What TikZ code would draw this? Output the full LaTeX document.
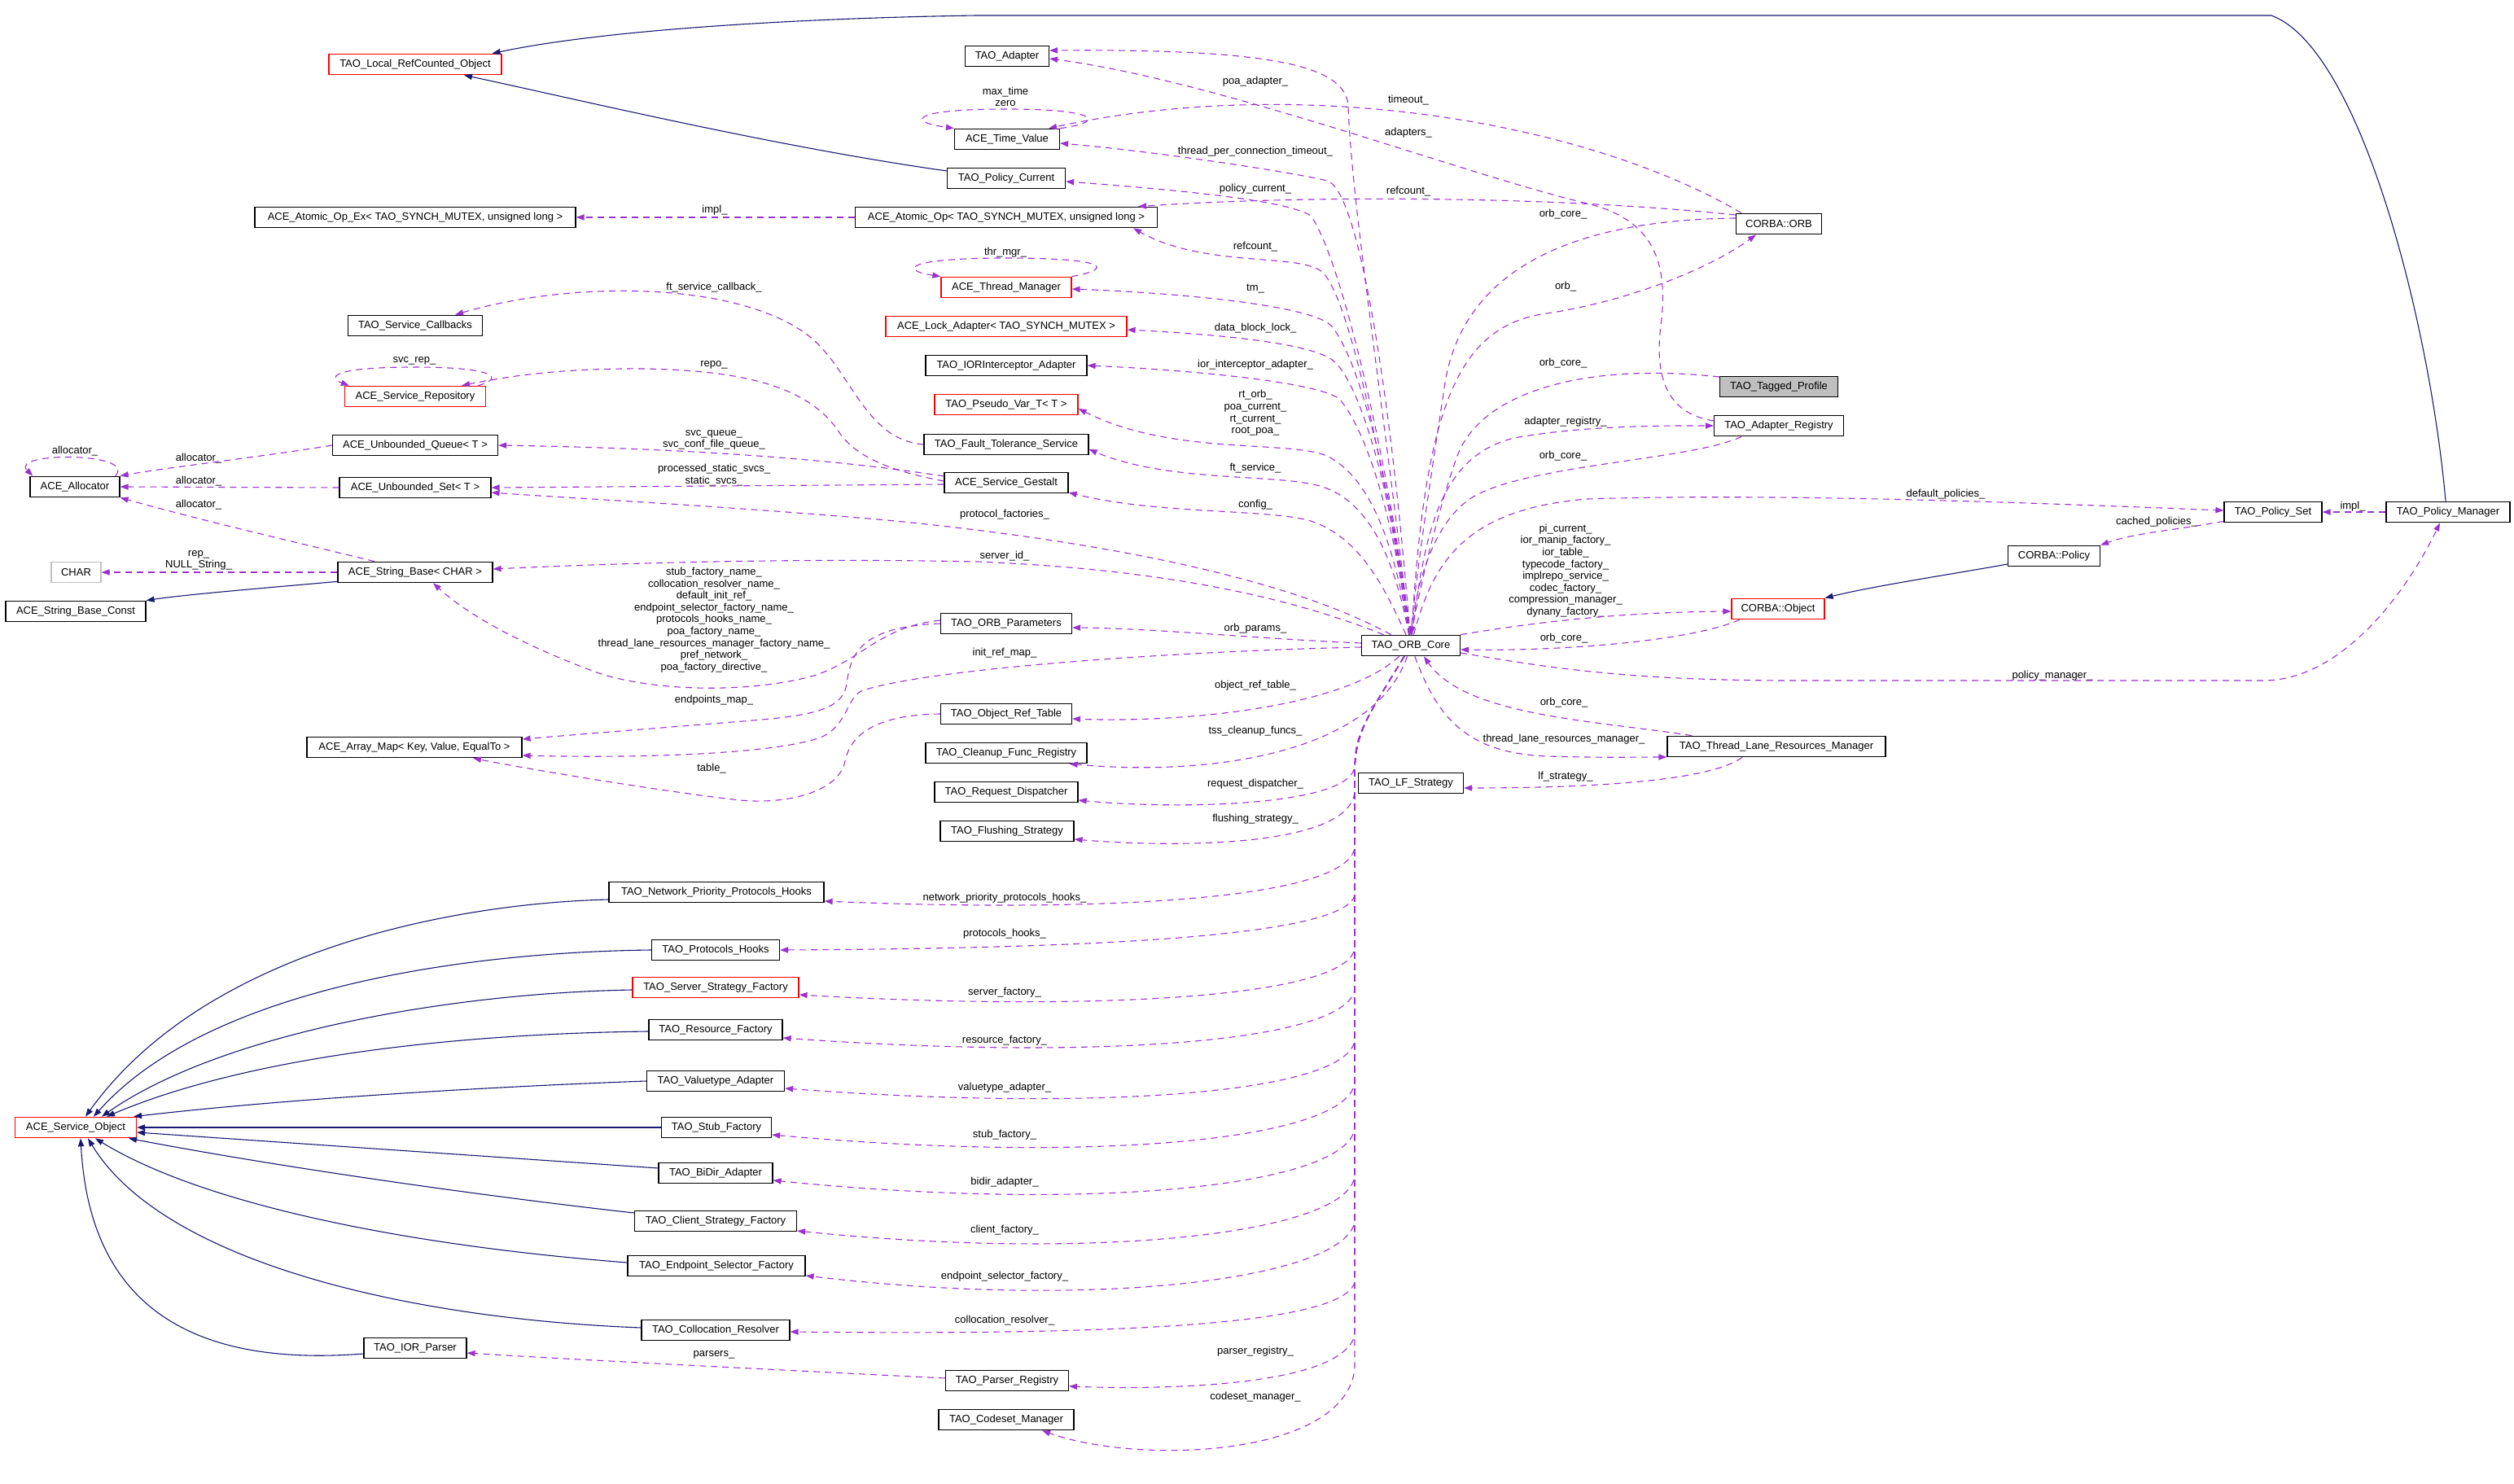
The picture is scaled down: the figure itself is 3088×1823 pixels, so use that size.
\documentclass[tikz,border=0pt]{standalone}
\usepackage{fontspec}
\usepackage{tikz}
\usetikzlibrary{arrows.meta}
\newfontfamily\dxsans{Liberation Sans}
\newcommand\dxfont{\dxsans\fontsize{6.5}{7.3}\selectfont}
\definecolor{usecol}{HTML}{9A32CD}
\definecolor{inhcol}{HTML}{191970}
\definecolor{greycol}{HTML}{BFBFBF}
\tikzset{
  cls/.style = {rectangle, draw=black, font=\dxfont, inner xsep=4pt, inner ysep=0pt,
    minimum height=12.75pt, minimum width=#1*0.5pt, line width=0.6pt},% class box
  cls_r/.style = {cls=#1, draw=red},% class box, red frame
  cls_g/.style = {cls=#1, draw=greycol},% class box, grey frame
  cls_f/.style = {cls=#1, fill=greycol},% class box of the graph
  lbl/.style = {font=\dxfont, align=center, inner sep=0pt},% member names
  use_e/.style = {draw=usecol, line width=0.55pt, dash pattern=on 4pt off 3pt,
    -{Triangle[length=5pt,width=3.6pt]}},% usage
  inh_e/.style = {draw=inhcol, line width=0.55pt,
    -{Triangle[length=5pt,width=3.6pt]}}% inheritance
}
\begin{document}
\begin{tikzpicture}[x=0.5pt, y=-0.5pt]
\useasboundingbox (0,0) rectangle (3088,1823);
% classes
\node[cls_r=212] (local_rc) at (510,79) {TAO\_Local\_RefCounted\_Object};
\node[cls=394] (atomic_ex) at (510,267) {ACE\_Atomic\_Op\_Ex< TAO\_SYNCH\_MUTEX, unsigned long >};
\node[cls=165] (svc_callbacks) at (510,400) {TAO\_Service\_Callbacks};
\node[cls_r=173] (svc_repo) at (510,487) {ACE\_Service\_Repository};
\node[cls=203] (ubq) at (510,547) {ACE\_Unbounded\_Queue< T >};
\node[cls=110] (allocator) at (92,598) {ACE\_Allocator};
\node[cls=186] (ubs) at (510,599) {ACE\_Unbounded\_Set< T >};
\node[cls_g=61] (char) at (93.5,703) {CHAR};
\node[cls=190] (str_base) at (510,703) {ACE\_String\_Base< CHAR >};
\node[cls=172] (str_const) at (93,751) {ACE\_String\_Base\_Const};
\node[cls=264] (array_map) at (509,918) {ACE\_Array\_Map< Key, Value, EqualTo >};
\node[cls=264] (nppH) at (880,1096) {TAO\_Network\_Priority\_Protocols\_Hooks};
\node[cls=157] (proto_hooks) at (879,1167) {TAO\_Protocols\_Hooks};
\node[cls_r=204] (server_sf) at (879,1213) {TAO\_Server\_Strategy\_Factory};
\node[cls=164] (resource_f) at (879,1265) {TAO\_Resource\_Factory};
\node[cls=169] (valuetype) at (879,1328) {TAO\_Valuetype\_Adapter};
\node[cls_r=149] (svc_object) at (93,1385) {ACE\_Service\_Object};
\node[cls=135] (stub_f) at (880,1385) {TAO\_Stub\_Factory};
\node[cls=140] (bidir) at (879,1441) {TAO\_BiDir\_Adapter};
\node[cls=199] (client_sf) at (879,1500) {TAO\_Client\_Strategy\_Factory};
\node[cls=218] (endpoint_sf) at (880,1555) {TAO\_Endpoint\_Selector\_Factory};
\node[cls=182] (colloc) at (879,1634) {TAO\_Collocation\_Resolver};
\node[cls=126] (ior_parser) at (510,1656) {TAO\_IOR\_Parser};
\node[cls=151] (parser_reg) at (1237,1696) {TAO\_Parser\_Registry};
\node[cls=166] (codeset) at (1236,1744) {TAO\_Codeset\_Manager};
\node[cls=103] (tao_adapter) at (1237,69) {TAO\_Adapter};
\node[cls=129] (time_value) at (1237,171) {ACE\_Time\_Value};
\node[cls=145] (policy_current) at (1236,219) {TAO\_Policy\_Current};
\node[cls=371] (atomic_op) at (1236,267) {ACE\_Atomic\_Op< TAO\_SYNCH\_MUTEX, unsigned long >};
\node[cls_r=160] (thread_mgr) at (1236,353) {ACE\_Thread\_Manager};
\node[cls_r=296] (lock_adapter) at (1236,401) {ACE\_Lock\_Adapter< TAO\_SYNCH\_MUTEX >};
\node[cls=198] (ior_intercept) at (1236,449) {TAO\_IORInterceptor\_Adapter};
\node[cls_r=176] (pseudo_var) at (1236,497) {TAO\_Pseudo\_Var\_T< T >};
\node[cls=202] (ft_service) at (1236,546) {TAO\_Fault\_Tolerance\_Service};
\node[cls=152] (gestalt) at (1236,593) {ACE\_Service\_Gestalt};
\node[cls=161] (orb_params) at (1236,766) {TAO\_ORB\_Parameters};
\node[cls=121] (orb_core) at (1733,793) {TAO\_ORB\_Core};
\node[cls=161] (obj_ref_table) at (1236,877) {TAO\_Object\_Ref\_Table};
\node[cls=198] (cleanup) at (1236,925) {TAO\_Cleanup\_Func\_Registry};
\node[cls=176] (req_disp) at (1236,973) {TAO\_Request\_Dispatcher};
\node[cls=164] (flushing) at (1237,1021) {TAO\_Flushing\_Strategy};
\node[cls=129] (lf_strategy) at (1733,962) {TAO\_LF\_Strategy};
\node[cls=105] (corba_orb) at (2185,275) {CORBA::ORB};
\node[cls_f=145] (tagged_profile) at (2185,475) {TAO\_Tagged\_Profile};
\node[cls=159] (adapter_reg) at (2185,523) {TAO\_Adapter\_Registry};
\node[cls=120] (policy_set) at (2792,629) {TAO\_Policy\_Set};
\node[cls=152] (policy_mgr) at (3007,629) {TAO\_Policy\_Manager};
\node[cls=113] (corba_policy) at (2523,683) {CORBA::Policy};
\node[cls_r=114] (corba_object) at (2184,748) {CORBA::Object};
\node[cls=268] (tlrm) at (2182,917) {TAO\_Thread\_Lane\_Resources\_Manager};
% member names
\node[lbl] (l_alloc_self) at (92,554) {allocator\_};
\node[lbl] (l_alloc_q) at (244,563) {allocator\_};
\node[lbl] (l_alloc_s) at (244,591) {allocator\_};
\node[lbl] (l_alloc_str) at (244,620) {allocator\_};
\node[lbl] (l_rep) at (244,688.5) {rep\_\\NULL\_String\_};
\node[lbl] (l_impl) at (878,258) {impl\_};
\node[lbl] (l_ftcb) at (877,353) {ft\_service\_callback\_};
\node[lbl] (l_svcrep) at (509,443) {svc\_rep\_};
\node[lbl] (l_repo) at (877,448) {repo\_};
\node[lbl] (l_svcq) at (877,540.5) {svc\_queue\_\\svc\_conf\_file\_queue\_};
\node[lbl] (l_static) at (877,583.5) {processed\_static\_svcs\_\\static\_svcs\_};
\node[lbl] (l_names) at (877,761.5) {stub\_factory\_name\_\\collocation\_resolver\_name\_\\default\_init\_ref\_\\endpoint\_selector\_factory\_name\_\\protocols\_hooks\_name\_\\poa\_factory\_name\_\\thread\_lane\_resources\_manager\_factory\_name\_\\pref\_network\_\\poa\_factory\_directive\_};
\node[lbl] (l_epmap) at (877,860) {endpoints\_map\_};
\node[lbl] (l_table) at (874,944) {table\_};
\node[lbl] (l_parsers) at (877,1664) {parsers\_};
\node[lbl] (l_maxtime) at (1235,119) {max\_time\\zero};
\node[lbl] (l_thrmgr) at (1235,310) {thr\_mgr\_};
\node[lbl] (l_poa) at (1542,100) {poa\_adapter\_};
\node[lbl] (l_tpct) at (1542,186) {thread\_per\_connection\_timeout\_};
\node[lbl] (l_polcur) at (1542,232) {policy\_current\_};
\node[lbl] (l_refc2) at (1542,303) {refcount\_};
\node[lbl] (l_tm) at (1542,355) {tm\_};
\node[lbl] (l_dbl) at (1542,403) {data\_block\_lock\_};
\node[lbl] (l_ioria) at (1542,448) {ior\_interceptor\_adapter\_};
\node[lbl] (l_rt) at (1542,507.5) {rt\_orb\_\\poa\_current\_\\rt\_current\_\\root\_poa\_};
\node[lbl] (l_ft) at (1542,575) {ft\_service\_};
\node[lbl] (l_config) at (1542,620) {config\_};
\node[lbl] (l_protof) at (1234,632) {protocol\_factories\_};
\node[lbl] (l_srvid) at (1234,683) {server\_id\_};
\node[lbl] (l_orbp) at (1542,772) {orb\_params\_};
\node[lbl] (l_initref) at (1234,802) {init\_ref\_map\_};
\node[lbl] (l_objref) at (1542,842) {object\_ref\_table\_};
\node[lbl] (l_tss) at (1542,898) {tss\_cleanup\_funcs\_};
\node[lbl] (l_reqd) at (1542,963) {request\_dispatcher\_};
\node[lbl] (l_flush) at (1542,1006) {flushing\_strategy\_};
\node[lbl] (l_nph) at (1234,1103) {network\_priority\_protocols\_hooks\_};
\node[lbl] (l_ph) at (1234,1147) {protocols\_hooks\_};
\node[lbl] (l_sf) at (1234,1219) {server\_factory\_};
\node[lbl] (l_rf) at (1234,1278) {resource\_factory\_};
\node[lbl] (l_va) at (1234,1336) {valuetype\_adapter\_};
\node[lbl] (l_stf) at (1234,1394) {stub\_factory\_};
\node[lbl] (l_bd) at (1234,1452) {bidir\_adapter\_};
\node[lbl] (l_cf) at (1234,1511) {client\_factory\_};
\node[lbl] (l_esf) at (1234,1568) {endpoint\_selector\_factory\_};
\node[lbl] (l_cr) at (1234,1622) {collocation\_resolver\_};
\node[lbl] (l_pr) at (1542,1660) {parser\_registry\_};
\node[lbl] (l_cm) at (1542,1716) {codeset\_manager\_};
\node[lbl] (l_timeout) at (1730,123) {timeout\_};
\node[lbl] (l_adapters) at (1730,163) {adapters\_};
\node[lbl] (l_refc1) at (1730,235) {refcount\_};
\node[lbl] (l_oc1) at (1920,263) {orb\_core\_};
\node[lbl] (l_orb) at (1923,352) {orb\_};
\node[lbl] (l_oc2) at (1920,446) {orb\_core\_};
\node[lbl] (l_areg) at (1923,518) {adapter\_registry\_};
\node[lbl] (l_oc3) at (1920,560) {orb\_core\_};
\node[lbl] (l_pic) at (1923,701) {pi\_current\_\\ior\_manip\_factory\_\\ior\_table\_\\typecode\_factory\_\\implrepo\_service\_\\codec\_factory\_\\compression\_manager\_\\dynany\_factory\_};
\node[lbl] (l_oc4) at (1921,784) {orb\_core\_};
\node[lbl] (l_oc5) at (1921,863) {orb\_core\_};
\node[lbl] (l_tlrm) at (1921,908) {thread\_lane\_resources\_manager\_};
\node[lbl] (l_lf) at (1923,954) {lf\_strategy\_};
\node[lbl] (l_defpol) at (2390,607) {default\_policies\_};
\node[lbl] (l_impl2) at (2890,622) {impl\_};
\node[lbl] (l_cached) at (2649,641) {cached\_policies\_};
\node[lbl] (l_polmgr) at (2521,830) {policy\_manager\_};
% inheritance
\draw[inh_e] ([xshift=-1.5pt]policy_mgr.north) .. controls (2985,400) and (2900,60) .. (2790,19) -- (1200,19) .. controls (1000,22) and (750,35) .. ([xshift=-6pt]local_rc.north east);
\draw[inh_e] ([yshift=4.5pt]policy_current.west) .. controls (950,180) and (700,120) .. ([xshift=30pt]local_rc.south);
\draw[inh_e] ([yshift=1pt]str_base.south west) .. controls (330,722) and (230,730) .. (str_const.north east);
\draw[inh_e] ([yshift=-5pt]corba_policy.west) .. controls (2400,705) and (2300,720) .. (corba_object.north east);
\draw[inh_e] ([yshift=-4.5pt]nppH.west) .. controls (550,1110) and (250,1170) .. ([xshift=6pt]svc_object.north);
\draw[inh_e] (proto_hooks.west) .. controls (550,1170) and (250,1220) .. ([xshift=11pt]svc_object.north);
\draw[inh_e] ([yshift=-1.5pt]server_sf.west) .. controls (550,1220) and (270,1270) .. ([xshift=16pt]svc_object.north);
\draw[inh_e] ([yshift=-1pt]resource_f.west) .. controls (550,1270) and (300,1300) .. ([xshift=19pt]svc_object.north);
\draw[inh_e] (valuetype.west) .. controls (600,1335) and (350,1350) .. ([xshift=-2pt]svc_object.north east);
\draw[inh_e] (stub_f.west) -- (svc_object.east);
\draw[inh_e] ([yshift=3pt]bidir.west) -- ([yshift=-3pt]svc_object.east);
\draw[inh_e] ([yshift=5pt]client_sf.west) .. controls (600,1470) and (350,1435) .. ([xshift=-5pt]svc_object.south east);
\draw[inh_e] ([yshift=2pt]endpoint_sf.west) .. controls (500,1530) and (250,1480) .. ([xshift=12pt]svc_object.south);
\draw[inh_e] ([yshift=1.5pt]colloc.west) .. controls (500,1620) and (200,1550) .. ([xshift=7.5pt]svc_object.south);
\draw[inh_e] ([yshift=-3.5pt]ior_parser.west) .. controls (230,1680) and (110,1600) .. ([xshift=3pt]svc_object.south);
% usage, left part
\draw[use_e] ([xshift=-3pt]allocator.north east) .. controls (170,555) and (10,555) .. ([xshift=2pt]allocator.north west);
\draw[use_e] (ubq.west) .. controls (330,560) and (200,575) .. (allocator.north east);
\draw[use_e] (ubs.west) -- (allocator.east);
\draw[use_e] ([xshift=-25pt]str_base.north) .. controls (380,670) and (250,640) .. (allocator.south east);
\draw[use_e] (str_base.west) -- (char.east);
\draw[use_e] (atomic_op.west) -- (atomic_ex.east);
\draw[use_e] (time_value.north east) .. controls (1360,150) and (1350,134) .. (1237,134) .. controls (1115,134) and (1115,150) .. (time_value.north west);
\draw[use_e] (thread_mgr.north east) .. controls (1370,330) and (1360,317) .. (1236,317) .. controls (1110,317) and (1105,332) .. (thread_mgr.north west);
\draw[use_e] ([xshift=-5pt]svc_repo.north east) .. controls (620,465) and (610,451) .. (510,451) .. controls (400,451) and (405,465) .. ([xshift=3pt]svc_repo.north west);
\draw[use_e] (ft_service.west) .. controls (1060,540) and (1045,450) .. (990,410) .. controls (900,345) and (700,345) .. ([xshift=-17pt]svc_callbacks.north east);
\draw[use_e] ([yshift=1pt]gestalt.west) .. controls (1090,578) and (1050,560) .. (1030,530) .. controls (990,470) and (900,455) .. (790,453) .. controls (680,452) and (610,465) .. ([xshift=-15pt]svc_repo.north east);
\draw[use_e] ([yshift=4pt]gestalt.west) .. controls (1000,560) and (800,550) .. (ubq.east);
\draw[use_e] ([yshift=-1pt]gestalt.west) -- (ubs.east);
\draw[use_e] ([yshift=2pt]orb_params.west) .. controls (1080,770) and (1060,810) .. (1000,830) .. controls (920,852) and (800,850) .. (730,825) .. controls (650,795) and (580,760) .. ([xshift=11pt]str_base.south);
\draw[use_e] (orb_params.west) .. controls (1060,770) and (1045,800) .. (1040,840) .. controls (1035,875) and (990,880) .. (900,887) .. controls (800,895) and (700,903) .. ([yshift=5pt]array_map.east);
\draw[use_e] (obj_ref_table.west) .. controls (1080,878) and (1045,900) .. (1038,935) .. controls (1030,975) and (960,990) .. (900,982) .. controls (800,970) and (650,945) .. ([xshift=36pt]array_map.south);
\draw[use_e] ([yshift=1.5pt]parser_reg.west) .. controls (1000,1685) and (700,1670) .. ([yshift=-3pt]ior_parser.east);
% usage from TAO_ORB_Core, upwards
\draw[use_e] (orb_core) .. controls (1700,500) and (1660,250) .. (1656,130) .. controls (1653,80) and (1560,60) .. ([yshift=3.5pt]tao_adapter.east);
\draw[use_e] (orb_core) .. controls (1710,500) and (1670,232) .. (1630,222) .. controls (1590,212) and (1420,186) .. ([yshift=-2.5pt]time_value.east);
\draw[use_e] (orb_core) .. controls (1712,600) and (1650,320) .. (1610,265) .. controls (1580,245) and (1430,232) .. ([yshift=-2pt]policy_current.east);
\draw[use_e] (orb_core) .. controls (1705,600) and (1660,370) .. (1625,335) .. controls (1600,310) and (1480,330) .. ([xshift=-15pt]atomic_op.south east);
\draw[use_e] (orb_core) .. controls (1710,600) and (1670,440) .. (1635,400) .. controls (1610,375) and (1450,360) .. ([yshift=-1pt]thread_mgr.east);
\draw[use_e] (orb_core) .. controls (1712,620) and (1675,480) .. (1640,445) .. controls (1615,420) and (1480,410) .. ([yshift=-2pt]lock_adapter.east);
\draw[use_e] (orb_core) .. controls (1712,640) and (1680,530) .. (1645,490) .. controls (1620,470) and (1470,455) .. (ior_intercept.east);
\draw[use_e] (orb_core) .. controls (1712,660) and (1680,585) .. (1630,560) .. controls (1580,540) and (1440,560) .. ([yshift=-2.5pt]pseudo_var.east);
\draw[use_e] (orb_core) .. controls (1712,680) and (1680,620) .. (1630,600) .. controls (1580,580) and (1440,595) .. ([yshift=-3pt]ft_service.east);
\draw[use_e] (orb_core) .. controls (1700,720) and (1670,660) .. (1610,640) .. controls (1560,625) and (1420,632) .. ([yshift=-6pt]gestalt.east);
\draw[use_e] (orb_core) .. controls (1600,720) and (1400,670) .. (1100,640) .. controls (900,622) and (700,612) .. ([yshift=-3pt]ubs.east);
\draw[use_e] (orb_core) .. controls (1600,740) and (1450,700) .. (1200,690) .. controls (1000,686) and (800,690) .. ([yshift=2pt]str_base.east);
\draw[use_e] ([yshift=1.5pt]orb_core.west) .. controls (1550,785) and (1420,772) .. ([yshift=-2.5pt]orb_params.east);
\draw[use_e] ([yshift=-1pt]orb_core.west) .. controls (1450,800) and (1150,820) .. (1060,848) .. controls (1040,855) and (1042,890) .. (1010,905) .. controls (960,925) and (800,932) .. ([yshift=-5pt]array_map.east);
% usage from TAO_ORB_Core, downwards
\draw[use_e] (orb_core) .. controls (1650,870) and (1450,888) .. ([yshift=-3pt]obj_ref_table.east);
\draw[use_e] (orb_core) .. controls (1690,920) and (1500,955) .. ([xshift=-11pt]cleanup.south east);
\draw[use_e] (orb_core) .. controls (1680,880) and (1664,900) .. (1664,940) .. controls (1664,990) and (1450,995) .. ([yshift=-5pt]req_disp.east);
\draw[use_e] (orb_core) .. controls (1680,880) and (1664,900) .. (1664,950) -- (1664,970) .. controls (1664,1040) and (1450,1042) .. ([yshift=-5pt]flushing.east);
\draw[use_e] (orb_core) .. controls (1680,880) and (1664,900) .. (1664,950) -- (1664,1041) .. controls (1655,1106) and (1350,1121) .. ([yshift=-5.5pt]nppH.east);
\draw[use_e] (orb_core) .. controls (1680,880) and (1664,900) .. (1664,950) -- (1664,1100) .. controls (1650,1150) and (1350,1165) .. (proto_hooks.east);
\draw[use_e] (orb_core) .. controls (1680,880) and (1664,900) .. (1664,950) -- (1664,1165) .. controls (1655,1225) and (1350,1243) .. ([yshift=-4.5pt]server_sf.east);
\draw[use_e] (orb_core) .. controls (1680,880) and (1664,900) .. (1664,950) -- (1664,1215) .. controls (1655,1280) and (1350,1303) .. ([yshift=-5pt]resource_f.east);
\draw[use_e] (orb_core) .. controls (1680,880) and (1664,900) .. (1664,950) -- (1664,1278) .. controls (1655,1343) and (1350,1366) .. ([yshift=-4.5pt]valuetype.east);
\draw[use_e] (orb_core) .. controls (1680,880) and (1664,900) .. (1664,950) -- (1664,1330) .. controls (1655,1400) and (1350,1430) .. ([yshift=-4.5pt]stub_f.east);
\draw[use_e] (orb_core) .. controls (1680,880) and (1664,900) .. (1664,950) -- (1664,1386) .. controls (1655,1456) and (1350,1490) .. ([yshift=-4.5pt]bidir.east);
\draw[use_e] (orb_core) .. controls (1680,880) and (1664,900) .. (1664,950) -- (1664,1445) .. controls (1655,1515) and (1350,1550) .. ([yshift=-6pt]client_sf.east);
\draw[use_e] (orb_core) .. controls (1680,880) and (1664,900) .. (1664,950) -- (1664,1500) .. controls (1655,1570) and (1350,1610) .. ([yshift=-6pt]endpoint_sf.east);
\draw[use_e] (orb_core) .. controls (1680,880) and (1664,900) .. (1664,950) -- (1664,1575) .. controls (1650,1630) and (1350,1640) .. ([yshift=-1pt]colloc.east);
\draw[use_e] (orb_core) .. controls (1680,880) and (1664,900) .. (1664,950) -- (1664,1640) .. controls (1650,1700) and (1450,1708) .. ([yshift=-3.5pt]parser_reg.east);
\draw[use_e] (orb_core) .. controls (1680,880) and (1664,900) .. (1664,950) -- (1664,1680) .. controls (1655,1790) and (1400,1800) .. ([xshift=22pt]codeset.south);
% usage, right part
\draw[use_e] (orb_core) .. controls (1750,500) and (1790,400) .. (1900,385) .. controls (2000,370) and (2100,330) .. ([xshift=-14pt]corba_orb.south);
\draw[use_e] ([yshift=3.5pt]corba_orb.west) .. controls (1950,270) and (1800,320) .. (1775,470) .. controls (1760,570) and (1740,700) .. (orb_core.north);
\draw[use_e] ([xshift=-23pt]corba_orb.north) .. controls (1950,150) and (1600,90) .. ([xshift=-7pt]time_value.north east);
\draw[use_e] ([yshift=5.5pt]corba_orb.west) .. controls (1900,240) and (1600,240) .. ([xshift=-12pt]atomic_op.north east);
\draw[use_e] ([yshift=3pt]adapter_reg.west) .. controls (2060,510) and (2030,480) .. (2040,400) .. controls (2050,320) and (2030,270) .. (1950,250) .. controls (1800,215) and (1500,100) .. ([yshift=-1.5pt]tao_adapter.east);
\draw[use_e] ([yshift=6pt]tagged_profile.west) .. controls (1950,445) and (1820,480) .. (1790,560) .. controls (1765,630) and (1745,720) .. (orb_core.north);
\draw[use_e] (orb_core) .. controls (1750,650) and (1770,560) .. (1860,538) .. controls (1950,522) and (2050,523) .. (adapter_reg.west);
\draw[use_e] ([xshift=-23pt]adapter_reg.south) .. controls (2080,565) and (1880,570) .. (1810,610) .. controls (1760,640) and (1740,720) .. (orb_core.north);
\draw[use_e] (orb_core) .. controls (1760,690) and (1800,625) .. (1950,613) .. controls (2200,605) and (2550,620) .. ([yshift=1pt]policy_set.west);
\draw[use_e] ([yshift=1pt]policy_set.south west) .. controls (2680,650) and (2620,655) .. (corba_policy.north east);
\draw[use_e] (policy_mgr.west) -- (policy_set.east);
\draw[use_e] (orb_core.north east) .. controls (1900,762) and (2000,752) .. ([yshift=-1.5pt]corba_object.west);
\draw[use_e] ([xshift=-23.5pt]corba_object.south) .. controls (2070,790) and (1900,800) .. ([yshift=-2.5pt]orb_core.east);
\draw[use_e] ([yshift=-4.5pt]orb_core.east) .. controls (1900,820) and (2000,836) .. (2200,836) -- (2780,836) .. controls (2880,836) and (2960,720) .. ([xshift=-5pt]policy_mgr.south);
\draw[use_e] (orb_core) .. controls (1765,880) and (1800,925) .. (1900,929) .. controls (1970,931) and (2010,930) .. ([yshift=-6.5pt]tlrm.west);
\draw[use_e] ([xshift=-52pt]tlrm.north) .. controls (1960,885) and (1800,880) .. ([xshift=8pt]orb_core.south);
\draw[use_e] ([xshift=-21pt]tlrm.south) .. controls (2100,960) and (1950,968) .. ([yshift=-3pt]lf_strategy.east);
\end{tikzpicture}
\end{document}
